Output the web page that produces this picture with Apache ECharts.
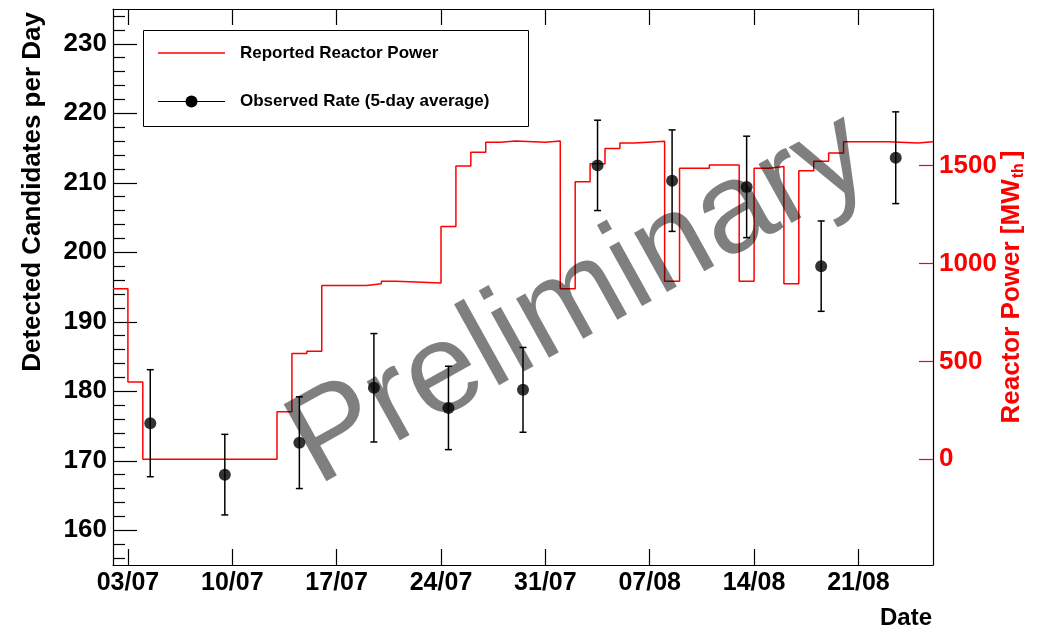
<!DOCTYPE html>
<html><head><meta charset="utf-8">
<script src="https://cdn.jsdelivr.net/npm/echarts@6/dist/echarts.min.js"></script>
<style>html,body{margin:0;padding:0;background:#fff}#c{width:1037px;height:628px}</style>
</head><body><div id="c"></div>
<script>
// x: days since 02/07
const tickDays = [1, 8, 15, 22, 29, 36, 43, 50];
const tickLabels = ['03/07', '10/07', '17/07', '24/07', '31/07', '07/08', '14/08', '21/08'];
const rateMajor = [160, 170, 180, 190, 200, 210, 220, 230];
const rateMinor = [156, 158, 162, 164, 166, 168, 172, 174, 176, 178, 182, 184, 186, 188, 192, 194, 196, 198, 202, 204, 206, 208, 212, 214, 216, 218, 222, 224, 226, 228, 232, 234];
const powerTicks = [0, 500, 1000, 1500];
// Reported reactor power (step starts, MW_th)
const powerDays = [0, 1, 2, 11, 12, 13, 14, 17, 18, 19, 22, 23, 24, 25, 26, 27, 29, 30, 31, 32, 33, 34, 35, 37, 38, 40, 42, 43, 44, 45, 46, 47, 48, 49, 52, 54, 55];
const powerMW = [871, 395, 0, 243, 540, 552, 888, 897, 910, 900, 1189, 1498, 1568, 1619, 1626, 1619, 1626, 871, 1418, 1509, 1588, 1616, 1624, 910, 1486, 1503, 910, 1486, 1496, 897, 1474, 1522, 1565, 1622, 1616, 1622, 1622];
// Observed rate (5-day average)
const rateDays = [2.5, 7.5, 12.5, 17.5, 22.5, 27.5, 32.5, 37.5, 42.5, 47.5, 52.5];
const rateValues = [175.4, 168.0, 172.6, 180.5, 177.6, 180.2, 212.5, 210.3, 209.4, 198.0, 213.6];
const rateErrors = [7.7, 5.8, 6.6, 7.8, 6.0, 6.1, 6.5, 7.3, 7.3, 6.5, 6.6];

const FONT = '"Liberation Sans", Arial, Helvetica, sans-serif';
const chart = echarts.init(document.getElementById('c'), null, {renderer: 'canvas'});

const xBase = {
  type: 'value', min: 0, max: 55,
  splitLine: {show: false},
  axisLine: {show: true, onZero: false, lineStyle: {color: '#000', width: 1.2}},
  axisTick: {show: true, inside: true, length: 16, customValues: tickDays, lineStyle: {color: '#000', width: 1.2}},
  minorTick: {show: false}
};

const option = {
  animation: false,
  backgroundColor: '#fff',
  grid: {left: 113, right: 104, top: 9, bottom: 63, containLabel: false, outerBoundsMode: 'none'},
  xAxis: [
    Object.assign({}, xBase, {
      position: 'bottom',
      axisLabel: {show: true, customValues: tickDays, margin: 6, color: '#000', fontFamily: FONT, fontWeight: 'bold', fontSize: 25,
        formatter: v => { const i = tickDays.indexOf(Math.round(v)); return i >= 0 ? tickLabels[i] : ''; }}
    }),
    Object.assign({}, xBase, {position: 'top', axisLabel: {show: false}})
  ],
  yAxis: [
    {
      type: 'value', min: 155, max: 235, position: 'left',
      splitLine: {show: false},
      axisLine: {show: true, onZero: false, lineStyle: {color: '#000', width: 1.2}},
      axisTick: {show: true, inside: true, length: 24, customValues: rateMajor, lineStyle: {color: '#000', width: 1.2}},
      axisLabel: {show: true, customValues: rateMajor, margin: 6, color: '#000', fontFamily: FONT, fontWeight: 'bold', fontSize: 26,
        formatter: v => String(v)}
    },
    {
      type: 'value', min: -540, max: 2300, position: 'right',
      splitLine: {show: false},
      axisLine: {show: true, onZero: false, lineStyle: {color: '#000', width: 1.2}},
      axisTick: {show: true, inside: true, length: 14, customValues: powerTicks, lineStyle: {color: '#ff0000', width: 1.2}},
      axisLabel: {show: true, customValues: powerTicks, margin: 6, color: '#ff0000', fontFamily: FONT, fontWeight: 'bold', fontSize: 26,
        formatter: v => String(v)},
      name: 'Reactor Power [MW{sub|th}]', nameLocation: 'middle', nameRotate: 90, nameGap: 64, nameMoveOverlap: false,
      nameTextStyle: {color: '#ff0000', fontFamily: FONT, fontWeight: 'bold', fontSize: 26,
        rich: {sub: {color: '#ff0000', fontFamily: FONT, fontWeight: 'bold', fontSize: 16, verticalAlign: 'bottom', padding: [14, 4, 0, 1]}}}
    },
    {
      type: 'value', min: 155, max: 235, position: 'left',
      splitLine: {show: false},
      axisLine: {show: false},
      axisTick: {show: true, inside: true, length: 12, customValues: rateMinor, lineStyle: {color: '#000', width: 1.2}},
      axisLabel: {show: false}
    }
  ],
  series: [
    {
      type: 'line', xAxisIndex: 0, yAxisIndex: 1, step: 'end',
      data: powerDays.map((d, i) => [d, powerMW[i]]),
      showSymbol: false, symbol: 'none',
      lineStyle: {color: '#ff0000', width: 1.5}, z: 3
    },
    {
      type: 'custom', xAxisIndex: 0, yAxisIndex: 0, z: 4,
      data: rateDays.map((d, i) => [d, rateValues[i], rateErrors[i]]),
      encode: {x: 0, y: 1},
      renderItem: (params, api) => {
        const x = api.value(0), y = api.value(1), e = api.value(2);
        const t = api.coord([x, y + e]), b = api.coord([x, y - e]);
        const hw = 3.5, st = {stroke: '#000', lineWidth: 1.5};
        return {type: 'group', children: [
          {type: 'line', shape: {x1: t[0], y1: t[1], x2: b[0], y2: b[1]}, style: st},
          {type: 'line', shape: {x1: t[0] - hw, y1: t[1], x2: t[0] + hw, y2: t[1]}, style: st},
          {type: 'line', shape: {x1: b[0] - hw, y1: b[1], x2: b[0] + hw, y2: b[1]}, style: st}
        ]};
      }
    },
    {
      type: 'scatter', xAxisIndex: 0, yAxisIndex: 0, z: 5,
      data: rateDays.map((d, i) => [d, rateValues[i]]),
      symbol: 'circle', symbolSize: 12, itemStyle: {color: '#000'}
    }
  ],
  graphic: [
    {type: 'text', z: 11, x: 33, y: 12, rotation: Math.PI / 2,
      style: {text: 'Detected Candidates per Day', font: 'bold 26px ' + FONT, fill: '#000', textAlign: 'right', textVerticalAlign: 'middle'}},
    {type: 'rect', z: 10, shape: {x: 143.5, y: 30.5, width: 385, height: 96}, style: {fill: '#fff', stroke: '#000', lineWidth: 1}},
    {type: 'line', z: 11, shape: {x1: 158, y1: 53, x2: 225, y2: 53}, style: {stroke: '#ff0000', lineWidth: 1.5}},
    {type: 'text', z: 11, x: 240, y: 53.5, style: {text: 'Reported Reactor Power', font: 'bold 17px ' + FONT, fill: '#000', textAlign: 'left', textVerticalAlign: 'middle'}},
    {type: 'line', z: 11, shape: {x1: 158, y1: 101.5, x2: 225, y2: 101.5}, style: {stroke: '#000', lineWidth: 1.2}},
    {type: 'circle', z: 11, shape: {cx: 191.5, cy: 101.5, r: 6}, style: {fill: '#000'}},
    {type: 'text', z: 11, x: 240, y: 101.5, style: {text: 'Observed Rate (5-day average)', font: 'bold 17px ' + FONT, fill: '#000', textAlign: 'left', textVerticalAlign: 'middle'}},
    {type: 'text', z: 11, x: 932, y: 618, style: {text: 'Date', font: 'bold 24px ' + FONT, fill: '#000', textAlign: 'right', textVerticalAlign: 'middle'}},
    {type: 'text', z: 50, x: 580, y: 300, rotation: Math.PI / 6.2,
      style: {text: 'Preliminary', font: 'normal 128px ' + FONT, fill: 'rgba(0,0,0,0.5)', textAlign: 'center', textVerticalAlign: 'middle'}}
  ]
};
chart.setOption(option);
</script>
</body></html>
